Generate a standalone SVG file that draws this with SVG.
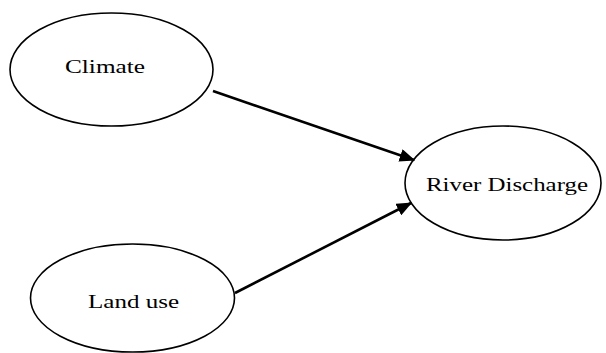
<svg xmlns="http://www.w3.org/2000/svg" width="606" height="353" viewBox="0 0 606 353">
<style>
.node ellipse{fill:#fff;stroke:#000;stroke-width:1.6}
.node text{font-family:"Liberation Serif","Times New Roman",serif;font-size:19px;fill:#000;text-anchor:start}
.edge{stroke:#000;stroke-width:2.6;fill:none;marker-end:url(#arr)}
</style>
<defs>
<marker id="arr" markerWidth="6" markerHeight="5" refX="5.5" refY="2.5" orient="auto" markerUnits="strokeWidth">
<path d="M0,0 L6,2.5 L0,5 Z" fill="#000"/>
</marker>
</defs>
<rect width="606" height="353" fill="#fff"/>
<g id="climate" class="node">
<ellipse cx="111.5" cy="69.5" rx="101.5" ry="56.5"/>
<text x="65" y="73" textLength="80" lengthAdjust="spacingAndGlyphs">Climate</text>
</g>
<g id="landuse" class="node">
<ellipse cx="132.5" cy="298" rx="102" ry="54"/>
<text x="88" y="308" textLength="91" lengthAdjust="spacingAndGlyphs">Land use</text>
</g>
<g id="river" class="node">
<ellipse cx="503" cy="183" rx="98" ry="57"/>
<text x="426" y="191" textLength="162" lengthAdjust="spacingAndGlyphs">River Discharge</text>
</g>
<g id="connectors">
<line class="edge" x1="213" y1="91" x2="414" y2="160"/>
<line class="edge" x1="235" y1="293" x2="411" y2="203"/>
</g>
</svg>
